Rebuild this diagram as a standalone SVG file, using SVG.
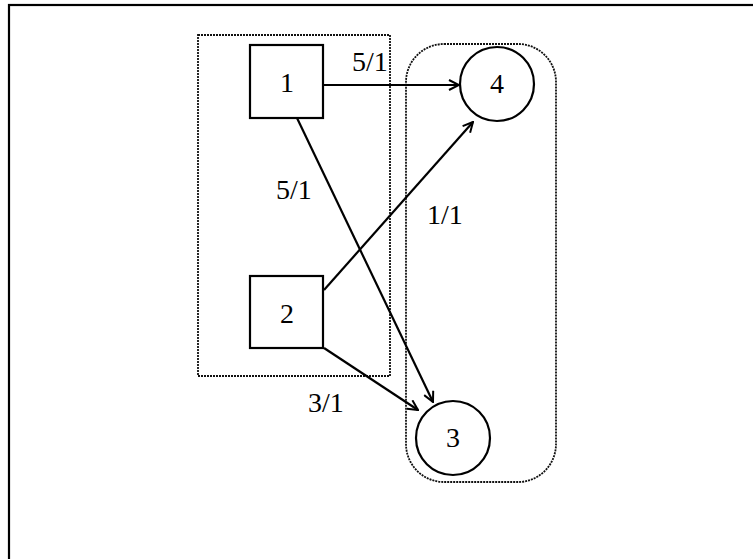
<svg xmlns="http://www.w3.org/2000/svg" width="753" height="559" viewBox="0 0 753 559">
<style>
text{font-family:"Liberation Serif","Times New Roman",serif;font-size:28px;fill:#000}
.node{fill:#fff;stroke:#000;stroke-width:2.2}
.grp{fill:none;stroke:#111;stroke-width:1.8;stroke-dasharray:2 1}
.edge{fill:none;stroke:#000;stroke-width:2.2;marker-end:url(#arr)}
</style>
<defs>
<marker id="arr" viewBox="0 0 12 12" refX="11" refY="6" markerWidth="12" markerHeight="12" markerUnits="userSpaceOnUse" orient="auto">
<path d="M1,1 L11,6 L1,11" fill="none" stroke="#000" stroke-width="2"/>
</marker>
</defs>
<rect x="0" y="0" width="753" height="559" fill="#fff"/>
<rect x="9" y="5" width="780" height="600" fill="none" stroke="#000" stroke-width="2.2"/>
<g id="group-left"><rect class="grp" x="198" y="35" width="192" height="341"/></g>
<g id="group-right"><rect class="grp" x="406" y="44" width="150" height="438" rx="38" ry="38"/></g>
<g id="connectors">
<line class="edge" x1="324" y1="85" x2="459" y2="85"/>
<line class="edge" x1="297" y1="118" x2="433" y2="402"/>
<line class="edge" x1="324" y1="290" x2="473" y2="122"/>
<line class="edge" x1="324" y1="348" x2="418" y2="410"/>
<text x="352" y="71">5/1</text>
<text x="276" y="199">5/1</text>
<text x="427" y="224">1/1</text>
<text x="308" y="412">3/1</text>
</g>
<g id="node1"><rect class="node" x="250" y="45" width="73" height="73"/><text x="287" y="92" text-anchor="middle">1</text></g>
<g id="node2"><rect class="node" x="250" y="276" width="73" height="72"/><text x="287" y="323" text-anchor="middle">2</text></g>
<g id="node4"><circle class="node" cx="497" cy="84" r="37"/><text x="497" y="93" text-anchor="middle">4</text></g>
<g id="node3"><circle class="node" cx="453" cy="438" r="37"/><text x="453" y="447" text-anchor="middle">3</text></g>
</svg>
